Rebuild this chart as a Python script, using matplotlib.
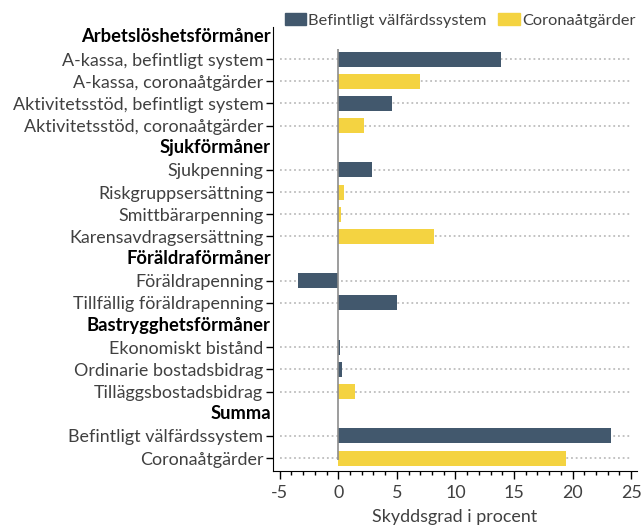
import matplotlib.pyplot as plt
import matplotlib.transforms as mtransforms
from matplotlib.patches import Patch
from matplotlib.ticker import MultipleLocator

# rader uppifrån och ned, rubriker har None
labels = ["Arbetslöshetsförmåner",
          "A-kassa, befintligt system", "A-kassa, coronaåtgärder",
          "Aktivitetsstöd, befintligt system", "Aktivitetsstöd, coronaåtgärder",
          "Sjukförmåner",
          "Sjukpenning", "Riskgruppsersättning", "Smittbärarpenning",
          "Karensavdragsersättning",
          "Föräldraförmåner",
          "Föräldrapenning", "Tillfällig föräldrapenning",
          "Bastrygghetsförmåner",
          "Ekonomiskt bistånd", "Ordinarie bostadsbidrag", "Tilläggsbostadsbidrag",
          "Summa",
          "Befintligt välfärdssystem", "Coronaåtgärder"]
is_header = [True, False, False, False, False,
             True, False, False, False, False,
             True, False, False,
             True, False, False, False,
             True, False, False]
values = [None, 13.85, 6.97, 4.58, 2.19,
          None, 2.84, 0.48, 0.23, 8.16,
          None, -3.44, 5.0,
          None, 0.14, 0.31, 1.42,
          None, 23.26, 19.4]
series = [None, "bef", "cor", "bef", "cor",
          None, "bef", "cor", "cor", "cor",
          None, "bef", "bef",
          None, "bef", "bef", "cor",
          None, "bef", "cor"]

c_bef = "#42586d"
c_cor = "#f4d341"
txt = "#404040"

plt.rcParams['font.family'] = ['Lato', 'DejaVu Sans']
plt.rcParams['axes.unicode_minus'] = False

fig = plt.figure(figsize=(6.42, 5.28), dpi=100)
ax = fig.add_axes([0.4252, 0.1085, 0.567, 0.8404])

rows = list(range(len(labels)))
data_rows = [i for i in rows if not is_header[i]]

for i in data_rows:
    ax.hlines(i, -5, 25, colors="#bdbdbd", linestyles=(0, (1, 1.6)), lw=1.3, zorder=0)
    col = c_bef if series[i] == "bef" else c_cor
    ax.barh(i, values[i], height=0.68, color=col, zorder=2)

ax.vlines(0, 0.55, 19.1, colors="#8c8c8c", lw=1.2, zorder=3)

ax.set_xlim(-5.57, 25.5)
ax.set_ylim(19.57, -0.45)
ax.xaxis.set_major_locator(MultipleLocator(5))
ax.xaxis.set_minor_locator(MultipleLocator(1))
ax.set_yticks(data_rows)
ax.set_yticklabels([labels[i] for i in data_rows], fontsize=12.9, color=txt)
tr = mtransforms.blended_transform_factory(ax.transAxes, ax.transData)
for i in rows:
    if is_header[i]:
        ax.text(-0.006, i, labels[i], transform=tr, ha="right", va="center",
                fontsize=13.2, fontweight="bold", color="black")

ax.tick_params(axis="y", length=5, width=1, pad=2, color="black")
ax.tick_params(axis="x", which="major", length=6, width=1, labelsize=12.9,
               labelcolor=txt, pad=4)
ax.tick_params(axis="x", which="minor", length=3, width=1)
ax.spines["top"].set_visible(False)
ax.spines["right"].set_visible(False)
ax.set_xlabel("Skyddsgrad i procent", fontsize=12.9, color=txt, labelpad=6)

handles = [Patch(color=c_bef, label="Befintligt välfärdssystem"),
           Patch(color=c_cor, label="Coronaåtgärder")]
fig.legend(handles=handles, loc="center left", bbox_to_anchor=(0.433, 0.962),
           ncol=2, frameon=False, fontsize=11.8, handlelength=1.3,
           handleheight=0.8, handletextpad=0.15, columnspacing=0.7,
           labelcolor=txt, borderaxespad=0)

fig.savefig("out.png", dpi=100)
